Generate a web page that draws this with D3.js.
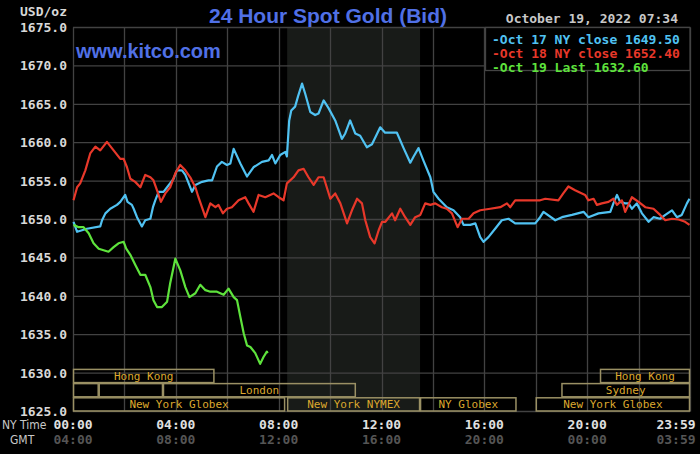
<!DOCTYPE html>
<html>
<head>
<meta charset="utf-8">
<script src="https://cdn.jsdelivr.net/npm/d3@7"></script>
<style>
  html, body { margin: 0; padding: 0; background: #000; }
  svg { display: block; }
</style>
</head>
<body>
<div class="canvas"></div>
<script>
// hours since 00:00 NY time, bid price
const oct17 = [
  [0.02,1649.7],[0.16,1648.4],[0.54,1648.8],[1.06,1649.1],[1.13,1649.9],[1.26,1650.8],[1.45,1651.4],
  [1.71,1651.9],[1.84,1652.3],[2.03,1653.2],[2.12,1652.3],[2.29,1651.9],[2.36,1651.4],[2.49,1650.3],
  [2.68,1649.1],[2.81,1649.9],[3.01,1650.1],[3.11,1651.6],[3.20,1652.5],[3.33,1653.6],[3.52,1653.6],
  [3.66,1654.2],[3.91,1655.3],[4.04,1656.4],[4.24,1656.4],[4.37,1655.8],[4.50,1654.7],[4.63,1653.6],
  [4.76,1654.5],[5.02,1654.9],[5.27,1655.1],[5.41,1655.1],[5.60,1656.9],[5.79,1657.5],[5.99,1657.1],
  [6.12,1657.3],[6.25,1659.2],[6.51,1657.3],[6.77,1655.6],[7.02,1656.8],[7.35,1657.5],[7.61,1657.7],
  [7.74,1658.4],[7.87,1657.3],[8.06,1658.4],[8.26,1658.8],[8.32,1658.2],[8.41,1662.9],[8.49,1664.2],
  [8.64,1664.7],[8.75,1666.0],[8.91,1667.7],[9.03,1666.4],[9.23,1664.0],[9.42,1663.6],[9.55,1663.8],
  [9.75,1665.5],[9.94,1664.5],[10.20,1662.9],[10.46,1660.5],[10.59,1661.2],[10.78,1662.9],[10.98,1661.2],
  [11.17,1660.9],[11.43,1659.4],[11.63,1659.8],[11.95,1662.0],[12.14,1661.3],[12.60,1661.3],[12.86,1659.3],
  [13.12,1657.4],[13.25,1658.2],[13.44,1659.3],[13.64,1657.6],[13.90,1655.5],[14.02,1653.6],[14.22,1652.7],
  [14.54,1651.6],[14.80,1651.2],[15.06,1650.3],[15.19,1649.3],[15.45,1649.3],[15.65,1649.5],[15.84,1647.7],
  [15.97,1647.1],[16.16,1647.7],[16.42,1648.8],[16.68,1649.9],[16.94,1650.1],[17.20,1649.5],[17.66,1649.5],
  [17.98,1649.5],[18.17,1650.3],[18.30,1651.0],[18.76,1649.9],[19.02,1650.3],[19.41,1650.6],[19.86,1651.0],
  [20.05,1650.3],[20.44,1650.8],[20.90,1651.0],[21.02,1652.1],[21.16,1653.2],[21.28,1652.3],[21.48,1652.1],
  [21.61,1652.1],[21.74,1651.4],[21.93,1652.1],[22.13,1650.8],[22.39,1649.7],[22.58,1650.3],[22.84,1650.1],
  [23.04,1650.6],[23.30,1651.2],[23.49,1650.3],[23.68,1650.6],[23.88,1652.1],[23.98,1652.7]
];

const oct18 = [
  [0.02,1652.5],[0.16,1654.2],[0.28,1654.7],[0.48,1656.4],[0.67,1658.6],[0.87,1659.5],[1.06,1659.0],
  [1.32,1660.1],[1.58,1659.0],[1.84,1657.9],[1.97,1657.9],[2.10,1656.8],[2.23,1655.3],[2.42,1654.9],
  [2.62,1654.2],[2.81,1655.8],[3.01,1655.5],[3.13,1655.1],[3.29,1653.6],[3.42,1652.3],[3.59,1653.4],
  [3.78,1654.2],[3.98,1656.0],[4.17,1657.1],[4.37,1656.4],[4.56,1655.5],[4.76,1654.2],[4.88,1652.9],
  [5.06,1651.2],[5.15,1650.3],[5.34,1652.1],[5.54,1651.6],[5.66,1651.9],[5.83,1650.8],[5.99,1651.4],
  [6.18,1651.6],[6.44,1652.5],[6.70,1652.9],[6.83,1652.1],[7.02,1651.0],[7.22,1653.2],[7.48,1652.9],
  [7.80,1653.4],[8.00,1652.9],[8.19,1652.5],[8.32,1654.7],[8.58,1655.5],[8.77,1656.4],[8.97,1656.6],
  [9.16,1655.5],[9.36,1654.5],[9.55,1655.5],[9.75,1655.5],[10.01,1652.7],[10.20,1653.4],[10.40,1652.1],
  [10.66,1649.5],[10.85,1651.2],[11.05,1652.7],[11.24,1652.1],[11.37,1649.9],[11.56,1647.7],[11.73,1646.9],
  [11.89,1648.6],[12.02,1649.7],[12.15,1649.7],[12.41,1650.8],[12.53,1649.9],[12.73,1651.4],[12.92,1650.3],
  [13.12,1649.3],[13.31,1650.3],[13.51,1650.6],[13.70,1652.1],[13.90,1651.9],[14.09,1652.1],[14.35,1651.6],
  [14.54,1651.4],[14.74,1650.8],[14.96,1649.0],[15.13,1650.1],[15.39,1650.1],[15.58,1650.8],[15.84,1651.2],
  [16.23,1651.4],[16.62,1651.6],[16.88,1652.1],[17.01,1651.6],[17.20,1652.5],[17.66,1652.5],[18.17,1652.5],
  [18.37,1652.7],[18.88,1652.5],[19.07,1653.4],[19.27,1654.3],[19.53,1653.8],[19.92,1653.2],[20.05,1652.5],
  [20.25,1652.7],[20.38,1651.9],[20.57,1652.1],[20.83,1652.3],[21.02,1652.7],[21.16,1651.9],[21.35,1652.5],
  [21.48,1651.0],[21.74,1652.9],[22.00,1652.3],[22.26,1651.6],[22.58,1651.4],[22.84,1650.6],[23.04,1649.9],
  [23.30,1650.1],[23.56,1650.0],[23.81,1649.7],[23.98,1649.3]
];

const oct19 = [
  [0.02,1649.3],[0.22,1649.0],[0.41,1649.0],[0.61,1648.2],[0.80,1646.9],[1.00,1646.2],[1.19,1646.0],
  [1.38,1645.8],[1.58,1646.4],[1.77,1646.9],[1.97,1647.1],[2.07,1646.2],[2.23,1645.4],[2.42,1644.1],
  [2.62,1642.8],[2.81,1642.8],[3.01,1641.2],[3.13,1639.5],[3.27,1638.6],[3.46,1638.6],[3.66,1639.3],
  [3.78,1641.7],[3.98,1644.9],[4.17,1643.4],[4.37,1641.2],[4.53,1639.9],[4.76,1640.4],[4.95,1641.5],
  [5.15,1640.8],[5.34,1640.6],[5.60,1640.6],[5.86,1640.2],[6.05,1641.0],[6.25,1639.9],[6.38,1639.5],
  [6.51,1637.3],[6.64,1635.2],[6.77,1633.6],[6.90,1633.4],[7.09,1632.6],[7.28,1631.2],[7.41,1632.1],
  [7.54,1632.8],[7.57,1632.6]
];

const seriesNames = ["Oct 17 NY close 1649.50", "Oct 18 NY close 1652.40", "Oct 19 Last 1632.60"];
const priceTicks = [1625, 1630, 1635, 1640, 1645, 1650, 1655, 1660, 1665, 1670, 1675];
const hourGrid = [0, 2, 4, 6, 8, 10, 12, 14, 16, 18, 20, 22, 24];
const nyLabels = ["00:00", "04:00", "08:00", "12:00", "16:00", "20:00", "23:59"];
const gmtLabels = ["04:00", "08:00", "12:00", "16:00", "20:00", "00:00", "03:59"];
const labelHours = [0, 4, 8, 12, 16, 20, 24];
const nymexHours = [8.33, 13.5];

// trading sessions, [name, start hour, end hour], one list per row
const sessionsTop = [["Hong Kong", 0, 5.5], ["Hong Kong", 20.5, 24]];
const sessionsMid = [["", 0, 1], ["", 1, 3.5], ["London", 3.5, 11], ["Sydney", 19, 24]];
const sessionsBottom = [["New York Globex", 0, 8.25], ["New York NYMEX", 8.33, 13.5], ["NY Globex", 13.5, 17.25], ["New York Globex", 18, 24]];

const W = 700, H = 454;
const plotL = 73, plotR = 690, plotT = 27.5, plotB = 411.5;
const mono = "'DejaVu Sans Mono', monospace";
const colors = ["#50c2f2", "#e8382a", "#5ee33c"];

const svg = d3.select('.canvas')
  .append('svg')
  .attr('width', W)
  .attr('height', H)
  .style('background', '#000');

const x = d3.scaleLinear().domain([0, 24]).range([plotL, plotR]);
const y = d3.scaleLinear().domain([1625, 1675]).range([plotB, plotT]);

// NYMEX hours shading
svg.append('rect')
  .attr('x', x(nymexHours[0]))
  .attr('y', plotT)
  .attr('width', x(nymexHours[1]) - x(nymexHours[0]))
  .attr('height', plotB - plotT)
  .attr('fill', '#181b18');

// grid
svg.append('g')
  .selectAll('line')
  .data(hourGrid)
  .enter()
  .append('line')
  .attr('x1', d => Math.round(x(d)) + 0.5)
  .attr('x2', d => Math.round(x(d)) + 0.5)
  .attr('y1', plotT)
  .attr('y2', plotB)
  .attr('stroke', '#424242')
  .attr('stroke-width', 1.3);

svg.append('g')
  .selectAll('line')
  .data(priceTicks)
  .enter()
  .append('line')
  .attr('x1', plotL)
  .attr('x2', plotR)
  .attr('y1', d => y(d))
  .attr('y2', d => y(d))
  .attr('stroke', '#424242')
  .attr('stroke-width', 1.3);

// y labels
svg.append('g')
  .selectAll('text')
  .data(priceTicks)
  .enter()
  .append('text')
  .attr('x', 67)
  .attr('y', d => y(d))
  .attr('dy', '0.35em')
  .attr('text-anchor', 'end')
  .attr('fill', '#d8d8d8')
  .style('font', `bold 13px ${mono}`)
  .text(d3.format('.1f'));

svg.append('text')
  .attr('x', 67).attr('y', 16)
  .attr('text-anchor', 'end')
  .attr('fill', '#d8d8d8')
  .style('font', `bold 13px ${mono}`)
  .text('USD/oz');

// session boxes
const rowH = 14.2;
const rows = [sessionsTop, sessionsMid, sessionsBottom];
rows.forEach((row, i) => {
  const y0 = plotB - (3 - i) * rowH;
  const g = svg.append('g');
  g.selectAll('rect')
    .data(row)
    .enter()
    .append('rect')
    .attr('x', d => x(d[1]) + 0.5)
    .attr('y', y0 + 0.5)
    .attr('width', d => x(d[2]) - x(d[1]) - 1)
    .attr('height', rowH - 1)
    .attr('fill', 'none')
    .attr('stroke', '#9a9064')
    .attr('stroke-width', 1.5);
  g.selectAll('text')
    .data(row)
    .enter()
    .append('text')
    .attr('x', d => (x(d[1]) + x(d[2])) / 2)
    .attr('y', y0 + rowH / 2)
    .attr('dy', '0.36em')
    .attr('text-anchor', 'middle')
    .attr('fill', '#dca82e')
    .style('font', `11px ${mono}`)
    .text(d => d[0]);
});

// price lines
const line = d3.line()
  .x(d => x(d[0]))
  .y(d => y(d[1]));

[oct17, oct18, oct19].forEach((s, i) => {
  svg.append('path')
    .datum(s)
    .attr('d', line)
    .attr('fill', 'none')
    .attr('stroke', colors[i])
    .attr('stroke-width', 2.2)
    .attr('stroke-linejoin', 'round');
});

// time labels
const xl = d => Math.min(x(d), 676);
svg.append('g')
  .selectAll('text')
  .data(labelHours)
  .enter()
  .append('text')
  .attr('x', xl)
  .attr('y', 429)
  .attr('text-anchor', 'middle')
  .attr('fill', '#e0e0e0')
  .style('font', `bold 13px ${mono}`)
  .text((d, i) => nyLabels[i]);

svg.append('g')
  .selectAll('text')
  .data(labelHours)
  .enter()
  .append('text')
  .attr('x', xl)
  .attr('y', 444)
  .attr('text-anchor', 'middle')
  .attr('fill', '#555')
  .style('font', `bold 13px ${mono}`)
  .text((d, i) => gmtLabels[i]);

svg.append('text')
  .attr('x', 2).attr('y', 429)
  .attr('fill', '#c8c8c8')
  .style('font', "12px 'DejaVu Sans Condensed', sans-serif")
  .text('NY Time');
svg.append('text')
  .attr('x', 10).attr('y', 444)
  .attr('fill', '#c8c8c8')
  .style('font', "12px 'DejaVu Sans Condensed', sans-serif")
  .text('GMT');

// titles
svg.append('text')
  .attr('x', 328).attr('y', 23)
  .attr('text-anchor', 'middle')
  .attr('fill', '#5070e6')
  .style('font', "bold 21px 'Liberation Sans', Arial, sans-serif")
  .text('24 Hour Spot Gold (Bid)');

svg.append('text')
  .attr('x', 76).attr('y', 58)
  .attr('fill', '#5070e6')
  .style('font', "bold 20px 'Liberation Sans', Arial, sans-serif")
  .text('www.kitco.com');

svg.append('text')
  .attr('x', 678).attr('y', 23)
  .attr('text-anchor', 'end')
  .attr('fill', '#c8c8c8')
  .style('font', `bold 13px ${mono}`)
  .text('October 19, 2022 07:34');

// legend
const legend = svg.append('g');
legend.append('rect')
  .attr('x', 485.5).attr('y', plotT)
  .attr('width', plotR - 485.5).attr('height', 43)
  .attr('fill', '#000')
  .attr('stroke', '#444')
  .attr('stroke-width', 1.3);

legend.selectAll('text')
  .data(seriesNames)
  .enter()
  .append('text')
  .attr('x', 492)
  .attr('y', (d, i) => 39 + i * 14)
  .attr('dy', '0.35em')
  .attr('fill', (d, i) => colors[i])
  .style('font', `bold 13px ${mono}`)
  .text(d => '-' + d);
</script>
</body>
</html>
